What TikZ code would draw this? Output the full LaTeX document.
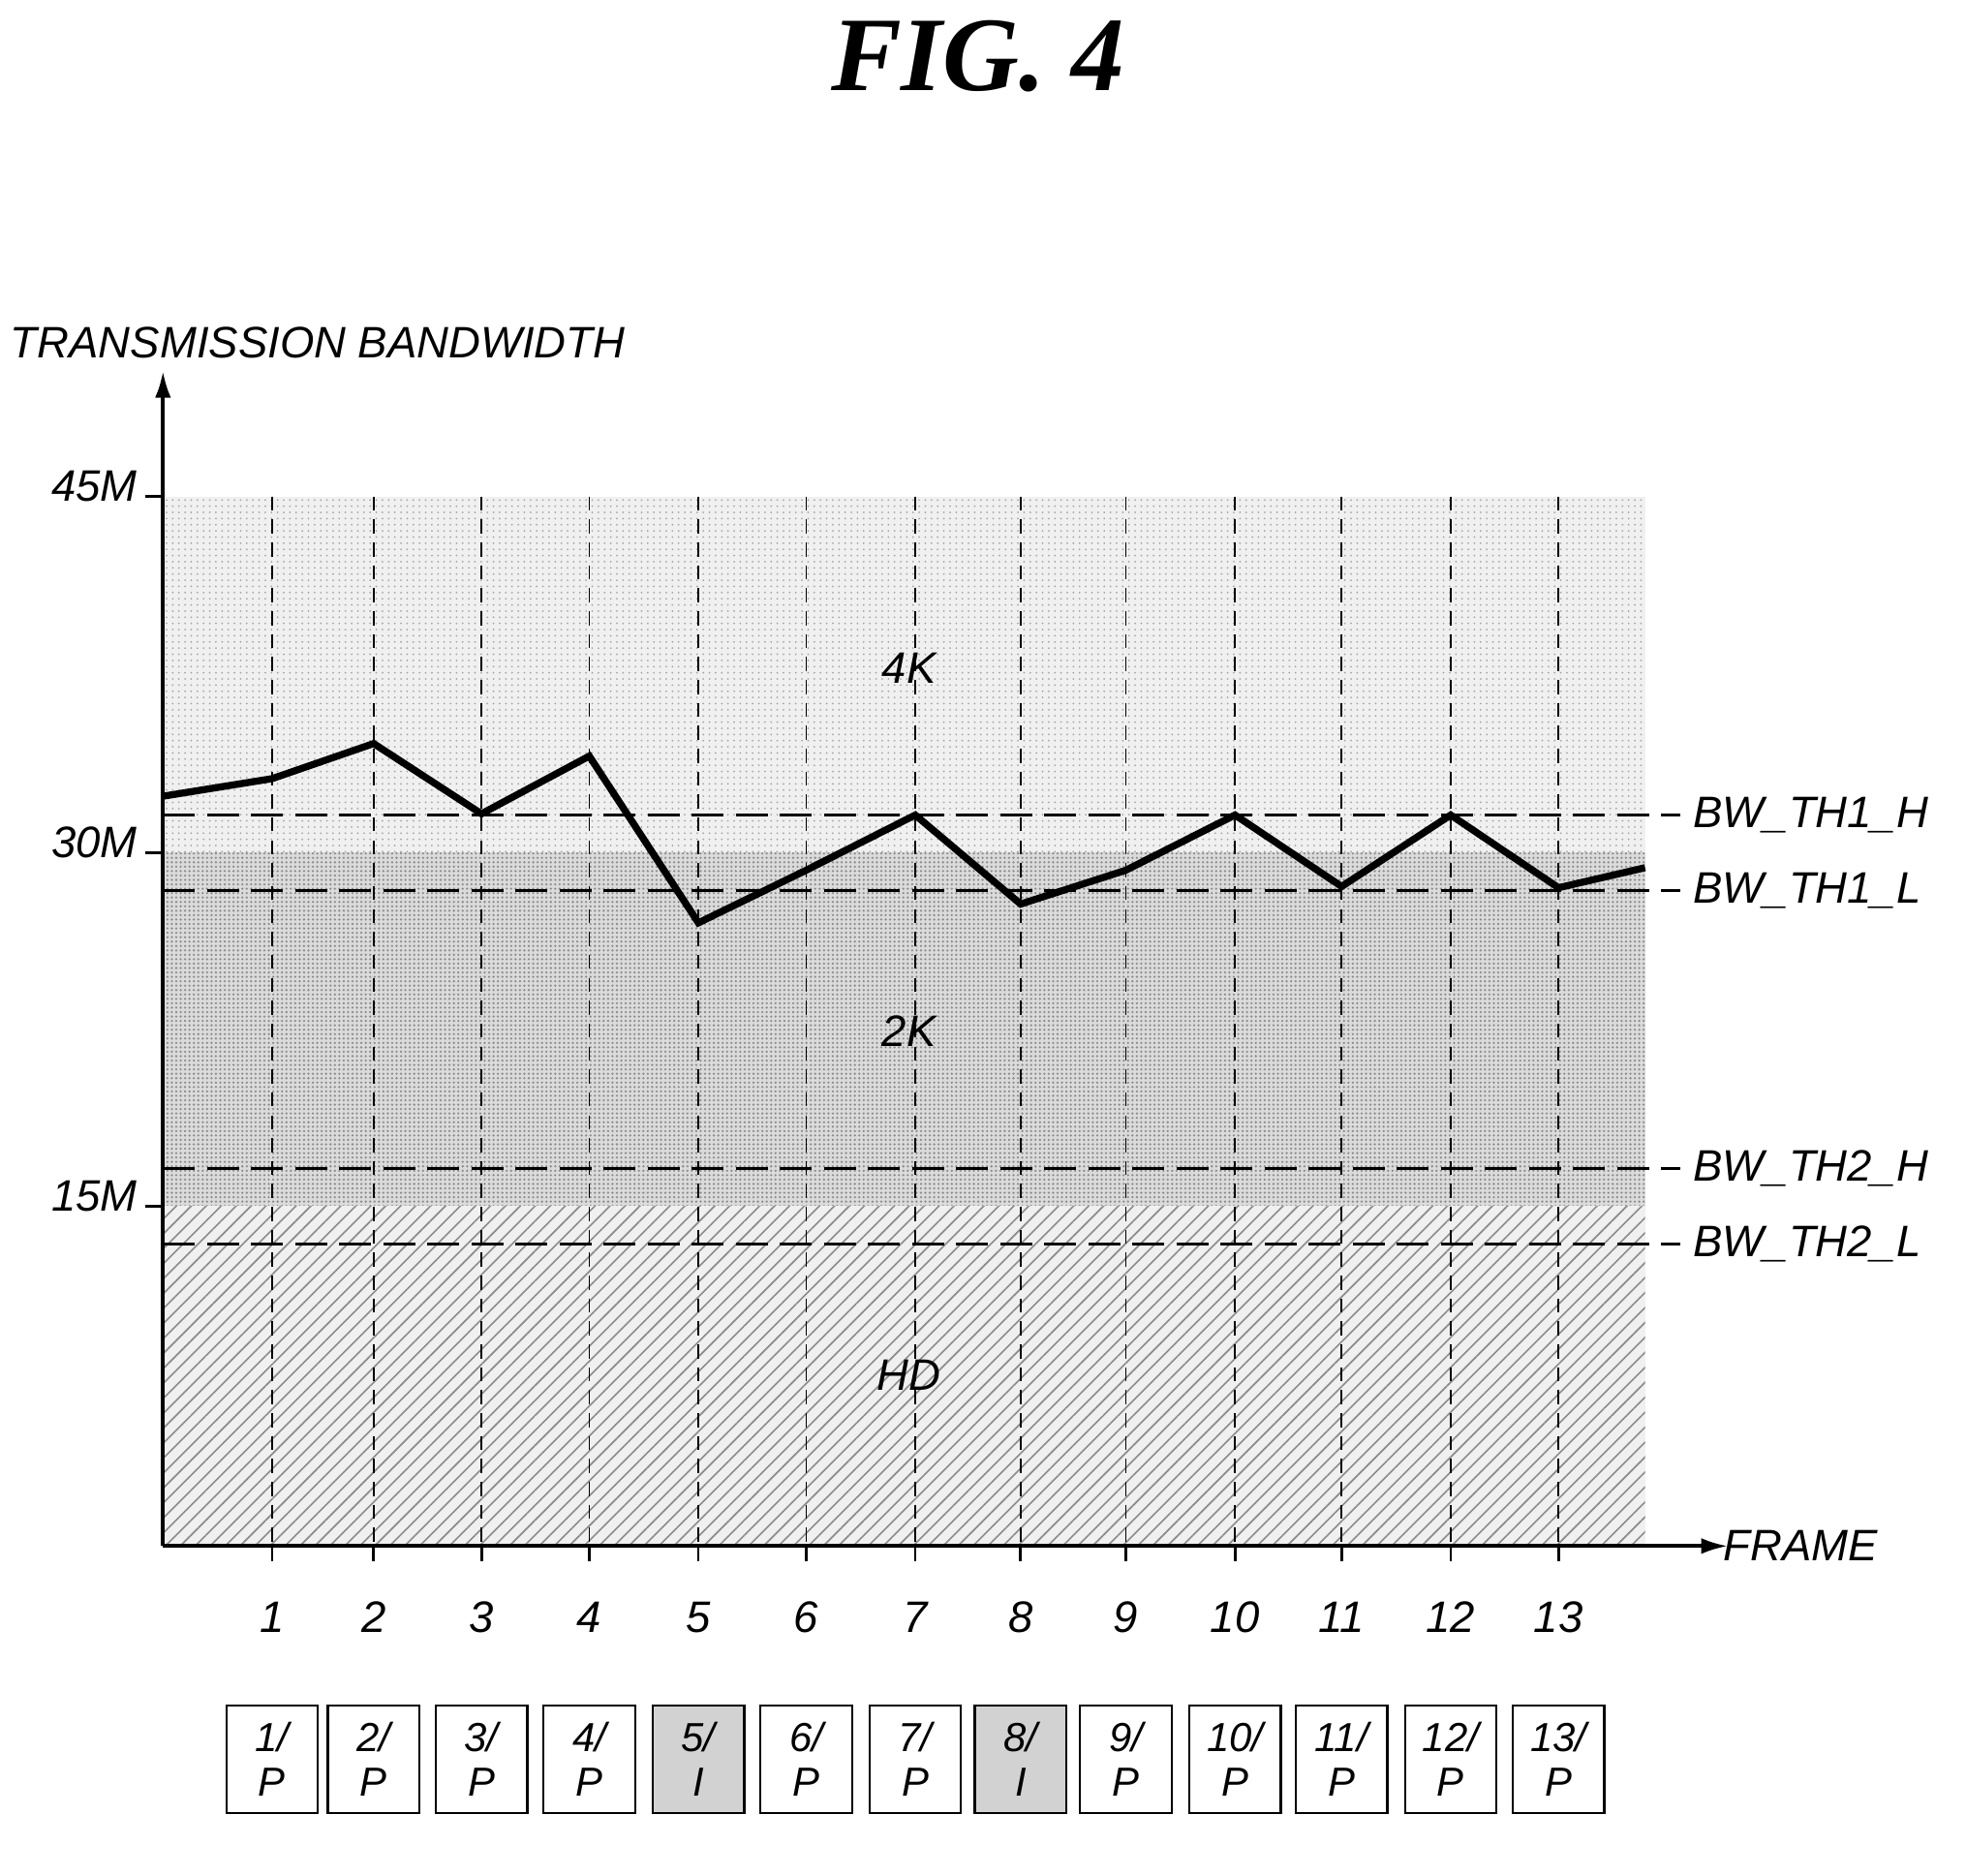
\documentclass[tikz,border=0pt]{standalone}
\usepackage{fontspec}
\setmainfont{Liberation Sans}
\newfontfamily\titlefont{Liberation Serif}
\usetikzlibrary{patterns.meta,arrows.meta}
\begin{document}
\begin{tikzpicture}[x=0.05cm,y=-0.05cm,
  lbl/.style={font=\fontsize{50}{56}\selectfont\itshape},
  th/.style={line width=3pt,dash pattern=on 36pt off 14pt},
  grid/.style={line width=1.8pt,dash pattern=on 16pt off 10pt},
  box/.style={draw,line width=2.5pt,minimum width=73*0.05cm,minimum height=86*0.05cm,align=center,font=\fontsize{46}{50}\selectfont\itshape,inner sep=0pt}]
\useasboundingbox (0,0) rectangle (1568,1496);
\node[font=\titlefont\fontsize{120}{130}\selectfont\bfseries\itshape] (title) at (780,45) {FIG. 4};
% regions
\fill[gray!12] (130,396) rectangle (1312,680);
\pattern[pattern={Dots[distance=7pt,radius=1.1pt]},pattern color=gray!70] (130,396) rectangle (1312,680);
\fill[gray!28] (130,680) rectangle (1312,962);
\pattern[pattern={Dots[distance=5pt,radius=1.4pt]},pattern color=gray!90] (130,680) rectangle (1312,962);
\fill[gray!12] (130,962) rectangle (1312,1233);
\pattern[pattern={Lines[angle=45,distance=12pt,line width=1.8pt]},pattern color=gray!90] (130,962) rectangle (1312,1233);
% grid
\foreach \x/\n in {217/1,298/2,384/3,470/4,557/5,643/6,730/7,814/8,898/9,985/10,1070/11,1157/12,1243/13}{
  \draw[grid] (\x,396) -- (\x,1233);
  \draw[line width=3pt] (\x,1233) -- (\x,1245);
  \node[lbl] (f\n) at (\x,1290) {\n};
}
\foreach \x/\n/\t in {217/1/P,298/2/P,384/3/P,470/4/P,557/5/I,643/6/P,730/7/P,814/8/I,898/9/P,985/10/P,1070/11/P,1157/12/P,1243/13/P}{
  \ifnum\n=5 \def\bf{gray!35}\else\ifnum\n=8 \def\bf{gray!35}\else\def\bf{white}\fi\fi
  \node[box,fill=\bf] (b\n) at (\x,1403) {\n/\\\t};
}
% thresholds
\foreach \y/\t/\nm in {650/BW\_TH1\_H/t1h,710/BW\_TH1\_L/t1l,932/BW\_TH2\_H/t2h,992/BW\_TH2\_L/t2l}{
  \coordinate (\nm a) at (130,\y);
  \coordinate (\nm b) at (1340,\y);
  \draw[th] (\nm a) -- (\nm b);
  \node[lbl,anchor=west] (\nm) at (1348,\y) {\t};
}
% axes
\coordinate (O) at (130,1233);
\coordinate (Y) at (130,296);
\coordinate (X) at (1378,1233);
\draw[line width=4pt,-{Latex[length=30pt,width=18pt]}] (O) -- (Y);
\draw[line width=4pt,-{Latex[length=30pt,width=18pt]}] (O) -- (X);
\node[lbl,anchor=south west] (yl) at (6,288) {TRANSMISSION BANDWIDTH};
\node[lbl,anchor=west] (xl) at (1372,1233) {FRAME};
\foreach \y/\t in {396/45M,680/30M,962/15M}{
  \draw[line width=3pt] (116,\y) -- (130,\y);
  \node[lbl,anchor=east] (v\t) at (112,\y-8) {\t};
}
\node[lbl] (k4) at (725,533) {4K};
\node[lbl] (k2) at (725,822) {2K};
\node[lbl] (hd) at (725,1097) {HD};
% curve
\draw[line width=8pt,line join=miter] (130,635)--(217,621)--(298,593)--(384,649)--(470,603)--(557,736)--(643,694)--(730,650)--(814,721)--(898,694)--(985,650)--(1070,707)--(1157,650)--(1243,708)--(1312,692);
\end{tikzpicture}
\end{document}
